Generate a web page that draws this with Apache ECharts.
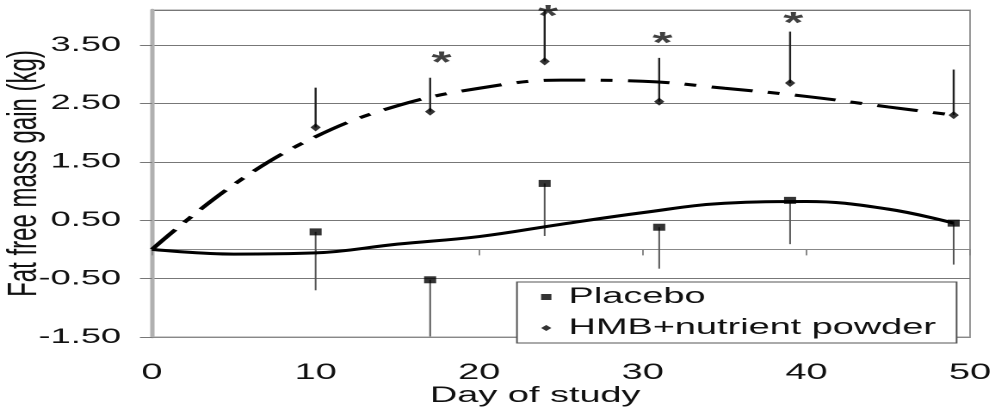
<!DOCTYPE html>
<html><head><meta charset="utf-8">
<script src="https://cdn.jsdelivr.net/npm/echarts@6/dist/echarts.min.js"></script>
<style>
html,body{margin:0;padding:0;background:#fff;overflow:hidden;}
#wrap{width:995px;height:409px;overflow:hidden;}
#c{width:578px;height:409px;transform:scaleX(1.72145);transform-origin:0 0;}
</style></head><body><div id="wrap"><div id="c"></div></div>
<script>
// measurement days and group means
const days = [10, 17, 24, 31, 39, 49];
const placebo = [0.30, -0.52, 1.13, 0.38, 0.84, 0.45];
const placeboErrLow = [-0.70, -1.49, 0.23, -0.33, 0.09, -0.26];
const hmb = [2.09, 2.36, 3.22, 2.53, 2.85, 2.30];
const hmbErrHigh = [2.77, 2.94, 4.10, 3.28, 3.73, 3.08];
// trend lines
const fitDays = [0, 5, 10, 15, 20, 25, 30, 35, 40, 45, 49];
const placeboFit = [0, -0.08, -0.06, 0.09, 0.22, 0.43, 0.63, 0.79, 0.82, 0.69, 0.45];
const hmbFit = [0, 1.11, 1.93, 2.46, 2.76, 2.90, 2.88, 2.76, 2.62, 2.44, 2.30];
// significance markers
const starDays = [17.7, 24.2, 31.2, 39.2];
const starValues = [3.30, 4.10, 3.63, 3.98];
// axis ticks
const yTickLabels = ['-1.50', '-0.50', '0.50', '1.50', '2.50', '3.50'];
const xTickLabels = ['0', '10', '20', '30', '40', '50'];

const FONT = "'Liberation Sans', Arial, sans-serif";
const chart = echarts.init(document.getElementById('c'), null, {renderer: 'canvas', devicePixelRatio: 2});

function errBar(color, width) {
  return function (params, api) {
    const p1 = api.coord([api.value(0), api.value(1)]);
    const p2 = api.coord([api.value(0), api.value(2)]);
    return {type: 'line', shape: {x1: p1[0], y1: p1[1], x2: p2[0], y2: p2[1]},
      style: {stroke: color, lineWidth: width}};
  };
}

chart.setOption({
  animation: false,
  backgroundColor: '#fff',
  grid: {left: 88.3, right: 14.5, top: 10, bottom: 72, show: true, borderColor: '#9a9a9a', borderWidth: 1,
    containLabel: false, outerBoundsMode: 'none'},
  xAxis: [{
    type: 'value', min: 0, max: 50, interval: 10, position: 'bottom',
    axisLine: {onZero: false, lineStyle: {color: '#888', width: 1}},
    axisTick: {show: false}, splitLine: {show: false},
    axisLabel: {fontSize: 22, color: '#111', fontFamily: FONT, margin: 25,
      formatter: v => xTickLabels[Math.round(v / 10)]},
    name: 'Day of study', nameLocation: 'middle', nameGap: 48, nameMoveOverlap: false,
    nameTextStyle: {fontSize: 22, color: '#111', fontFamily: FONT, padding: [0, 30, 0, 0]}
  }, {
    type: 'value', min: 0, max: 50, interval: 10, position: 'bottom',
    axisLine: {onZero: true, onZeroAxisIndex: 0, lineStyle: {color: '#888', width: 1}},
    axisTick: {show: true, length: 6, lineStyle: {color: '#888'}},
    axisLabel: {show: false}, splitLine: {show: false}
  }],
  yAxis: {
    type: 'value', min: -1.5, max: 4.1, interval: 1,
    axisLine: {show: true, lineStyle: {color: '#b0b0b0', width: 2.5}},
    axisTick: {show: true, length: 7, lineStyle: {color: '#777'}},
    splitLine: {show: true, lineStyle: {color: '#777', width: 1}},
    axisLabel: {fontSize: 21, color: '#111', fontFamily: FONT, margin: 18, showMaxLabel: false,
      formatter: v => { const i = Math.round(v + 1.5); return yTickLabels[i] !== undefined ? yTickLabels[i] : ''; }},
    name: 'Fat free mass gain (kg)', nameLocation: 'middle', nameGap: 62, nameRotate: 90, nameMoveOverlap: false,
    nameTextStyle: {fontSize: 24, color: '#111', fontFamily: FONT}
  },
  legend: {
    orient: 'vertical', left: 300.3, top: 282, padding: [4, 12, 4, 14], itemGap: 9,
    itemWidth: 6, itemHeight: 6, backgroundColor: '#fff', borderColor: '#555', borderWidth: 1,
    textStyle: {fontSize: 22, color: '#111', fontFamily: FONT, padding: [0, 0, 0, 5]},
    data: [{name: 'Placebo', icon: 'rect'}, {name: 'HMB+nutrient powder', icon: 'diamond'}]
  },
  series: [
    {name: 'Placebo trend', type: 'line', smooth: 0.4, symbol: 'none',
      data: fitDays.map((d, i) => [d, placeboFit[i]]),
      lineStyle: {color: '#000', width: 3}, z: 3},
    {name: 'HMB trend', type: 'line', smooth: 0.4, symbol: 'none',
      data: fitDays.map((d, i) => [d, hmbFit[i]]),
      lineStyle: {color: '#000', width: 3, type: [24, 9, 7, 9]}, z: 3},
    {name: 'Placebo error', type: 'custom', renderItem: errBar('#555', 1),
      data: days.map((d, i) => [d, placebo[i], placeboErrLow[i]]), encode: {x: 0, y: [1, 2]}, z: 2},
    {name: 'HMB error', type: 'custom', renderItem: errBar('#222', 1.2),
      data: days.map((d, i) => [d, hmb[i], hmbErrHigh[i]]), encode: {x: 0, y: [1, 2]}, z: 2},
    {name: 'Placebo', type: 'scatter', symbol: 'rect', symbolSize: [7, 7],
      itemStyle: {color: '#000'}, data: days.map((d, i) => [d, placebo[i]]), z: 5},
    {name: 'HMB+nutrient powder', type: 'scatter', symbol: 'diamond', symbolSize: [6, 8],
      itemStyle: {color: '#000'}, data: days.map((d, i) => [d, hmb[i]]), z: 5},
    {name: 'significance', type: 'scatter', symbol: 'circle', symbolSize: 1,
      itemStyle: {color: 'rgba(0,0,0,0)'}, silent: true,
      label: {show: true, position: 'inside', formatter: '*', fontSize: 30, fontWeight: 'bold', color: '#111', fontFamily: FONT, offset: [0, 7]},
      data: starDays.map((d, i) => [d, starValues[i]]), z: 6}
  ]
});
</script></body></html>
